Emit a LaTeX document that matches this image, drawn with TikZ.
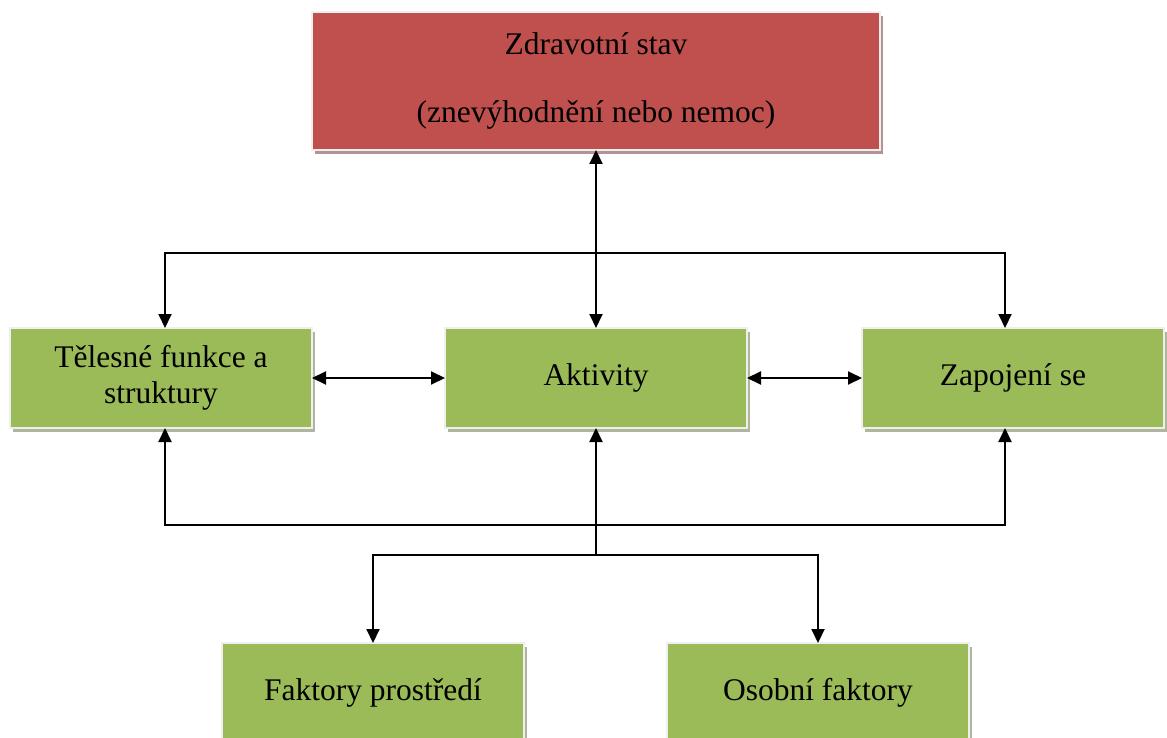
\documentclass[tikz,border=0pt]{standalone}
\usepackage{fontspec}
\setmainfont{Liberation Serif}
\usetikzlibrary{positioning,arrows.meta,shadows}
\definecolor{cRed}{HTML}{C0504D}
\definecolor{cRedSh}{HTML}{B39494}
\definecolor{cGreen}{HTML}{9BBB59}
\definecolor{cGreenSh}{HTML}{AFB69D}
\definecolor{cRim}{HTML}{EFEFEF}

\begin{document}
\begin{tikzpicture}[
  x=1pt, y=-1pt,
  font=\fontsize{31.5}{36}\selectfont,
  >={Triangle[length=14pt,width=13pt]},
  box/.style={rectangle, draw=cRim, line width=2.5pt, align=center,
              minimum width=302pt, minimum height=100pt, inner sep=2pt,
              outer sep=0pt},
  redbox/.style={box, fill=cRed, minimum width=568pt, minimum height=138pt,
                 drop shadow={shadow xshift=3pt, shadow yshift=-4pt,
                              fill=cRedSh, opacity=1}},
  greenbox/.style={box, fill=cGreen,
                   drop shadow={shadow xshift=3pt, shadow yshift=-4pt,
                                fill=cGreenSh, opacity=1}},
  link/.style={draw=black, line width=2pt},
  arr/.style={link, ->},
  dbl/.style={link, <->}]

\useasboundingbox (0,0) rectangle (1167,738);

% ---------- health condition ----------
\node[redbox] (zdrav) at (596,81) {Zdravotní stav\\[32pt](znevýhodnění nebo nemoc)};

% ---------- middle row ----------
\node[greenbox] (akt) at (596,378) {Aktivity};
\node[greenbox, left=133pt of akt] (tel) {Tělesné funkce a\\struktury};
\node[greenbox, right=115pt of akt] (zap) {Zapojení se};

% ---------- contextual factors ----------
\node[greenbox] (fak) at (373,693) {Faktory prostředí};
\node[greenbox] (oso) at (818,693) {Osobní faktory};

% ---------- edges ----------
\coordinate (topbar) at (akt.north |- 0,253);
\coordinate (botbar) at (akt.south |- 0,525);
\coordinate (split) at (akt.south |- 0,555);
\draw[dbl] (akt.north) -- (zdrav.south -| akt.north);
\draw[arr] (topbar) -| ([xshift=4pt]tel.north);
\draw[arr] (topbar) -| ([xshift=-8pt]zap.north);
\draw[dbl] (tel.east) -- (akt.west);
\draw[dbl] (akt.east) -- (zap.west);
\draw[arr] (botbar) -| ([xshift=4pt]tel.south);
\draw[arr] (botbar) -| ([xshift=-8pt]zap.south);
\draw[arr] (split) -- (akt.south);
\draw[arr] (split) -| (fak.north);
\draw[arr] (split) -| (oso.north);
\end{tikzpicture}
\end{document}
